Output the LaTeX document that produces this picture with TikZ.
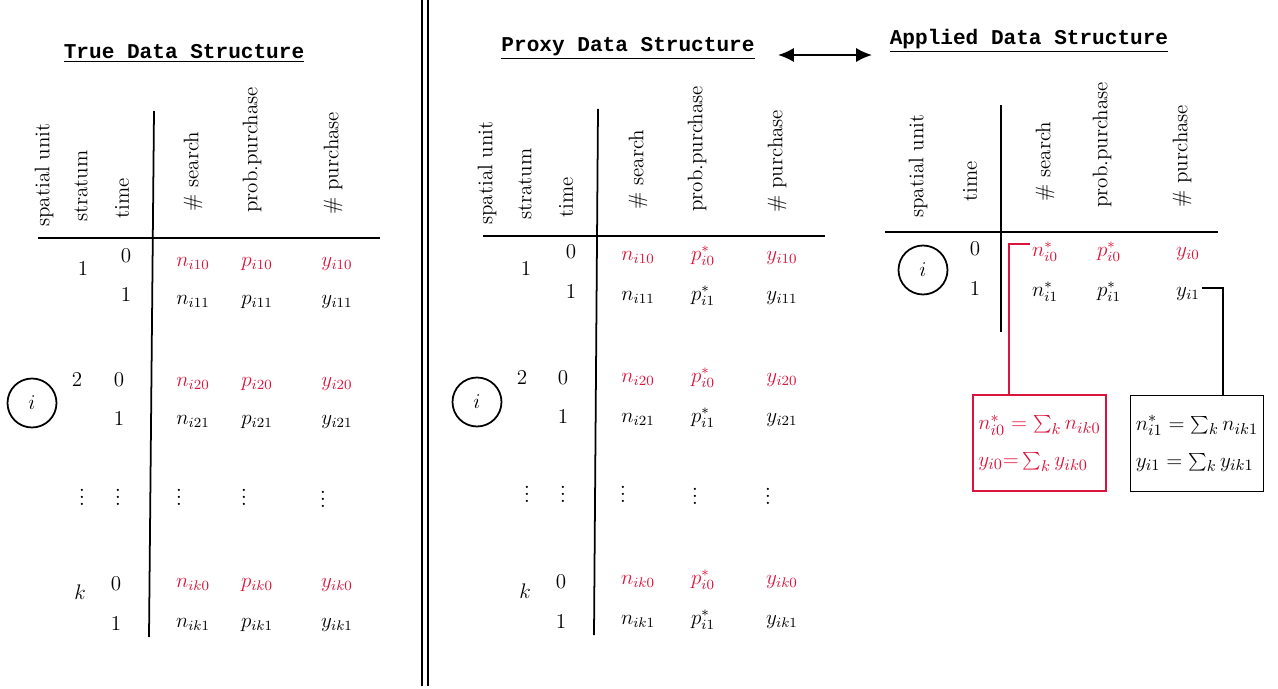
\documentclass[tikz,border=0pt]{standalone}
\usepackage{fontspec}
\newfontfamily\titlefont{Liberation Mono}
\usetikzlibrary{positioning,arrows.meta,calc}
\definecolor{redc}{RGB}{220,20,60}
\tikzset{
  every node/.style={font=\fontsize{12}{14}\selectfont},
  cell/.style={inner sep=1pt, text height=2.2ex, text depth=.8ex},
  redcell/.style={cell, text=redc},
  dotcell/.style={inner sep=0pt, font=\fontsize{13}{15}\selectfont},
  colhead/.style={rotate=90, anchor=west, inner sep=0pt},
  unit/.style={circle, draw, line width=1pt, minimum size=0.98cm, inner sep=0pt},
  title/.style={font=\fontsize{12}{14}\selectfont\titlefont\bfseries, inner sep=0pt},
  rule/.style={line width=1pt},
  sumbox/.style={draw, line width=1pt, align=left, minimum width=2.66cm,
                 minimum height=1.92cm, inner sep=0.5pt, font=\fontsize{13}{16}\selectfont},
}
\begin{document}
\begin{tikzpicture}[x=0.02cm, y=-0.02cm, on grid]
\useasboundingbox (0,0) rectangle (1278,689);

% separator
\draw[rule] (422,0) -- (422,686);
\draw[rule] (428,0) -- (428,686);

%%% true data structure
\node[title] (ttitle) at (184,53) {\underline{True Data Structure}};
\node[colhead] (tsu) at (44,227) {spatial unit};
\node[colhead] (tst) at (81,222) {stratum};
\node[colhead] (ttm) at (122,219) {time};
\node[colhead] (tse) at (193,212) {\# search};
\node[colhead] (tpp) at (252,213) {prob.purchase};
\node[colhead] (tpu) at (333,215) {\# purchase};
\draw[rule] (38,238) -- (380,238);
\draw[rule] (154,111) -- (149,637);

\node[unit] (tunit) at (32,403) {$i$};

\node[cell] (ts1) at (83,270) {1};
\node[cell] (tt10) at (126,257) {0};
\node[cell] (tt11) at (126,296) {1};
\node[redcell] (tn10) at (193,261) {$n_{i10}$};
\node[redcell] (tp10) [right=1.28cm of tn10] {$p_{i10}$};
\node[redcell] (ty10) [right=1.6cm of tp10] {$y_{i10}$};
\node[cell] (tn11) at (193,299) {$n_{i11}$};
\node[cell] (tp11) [right=1.28cm of tn11] {$p_{i11}$};
\node[cell] (ty11) [right=1.6cm of tp11] {$y_{i11}$};

\node[cell] (ts2) at (77,381) {2};
\node[cell] (tt20) at (119,381) {0};
\node[cell] (tt21) at (119,420) {1};
\node[redcell] (tn20) at (193,381) {$n_{i20}$};
\node[redcell] (tp20) [right=1.28cm of tn20] {$p_{i20}$};
\node[redcell] (ty20) [right=1.6cm of tp20] {$y_{i20}$};
\node[cell] (tn21) at (193,419) {$n_{i21}$};
\node[cell] (tp21) [right=1.28cm of tn21] {$p_{i21}$};
\node[cell] (ty21) [right=1.6cm of tp21] {$y_{i21}$};

\node[dotcell] (tdots1) at (82,492) {$\vdots$};
\node[dotcell] (tdots2) at (118,492) {$\vdots$};
\node[dotcell] (tdots3) at (179,492) {$\vdots$};
\node[dotcell] (tdots4) at (244,492) {$\vdots$};
\node[dotcell] (tdots5) at (323,494) {$\vdots$};

\node[cell] (tsk) at (80,594) {$k$};
\node[cell] (ttk0) at (116,585) {0};
\node[cell] (ttk1) at (116,625) {1};
\node[redcell] (tnk0) at (193,582) {$n_{ik0}$};
\node[redcell] (tpk0) [right=1.28cm of tnk0] {$p_{ik0}$};
\node[redcell] (tyk0) [right=1.6cm of tpk0] {$y_{ik0}$};
\node[cell] (tnk1) at (193,622) {$n_{ik1}$};
\node[cell] (tpk1) [right=1.28cm of tnk1] {$p_{ik1}$};
\node[cell] (tyk1) [right=1.6cm of tpk1] {$y_{ik1}$};

%%% proxy data structure
\node[title] (xtitle) at (628,48) {\underline{Proxy Data Structure}};
\node[colhead] (xsu) at (487,225) {spatial unit};
\node[colhead] (xst) at (525,220) {stratum};
\node[colhead] (xtm) at (566,218) {time};
\node[colhead] (xse) at (638,210) {\# search};
\node[colhead] (xpp) at (697,212) {prob.purchase};
\node[colhead] (xpu) at (777,213) {\# purchase};
\draw[rule] (483,236) -- (825,236);
\draw[rule] (598,109) -- (594,635);

\node[unit] (xunit) at (477,402) {$i$};

\node[cell] (xs1) at (526,270) {1};
\node[cell] (xt10) at (571,253) {0};
\node[cell] (xt11) at (571,293) {1};
\node[redcell] (xn10) at (638,255) {$n_{i10}$};
\node[redcell] (xp10) [right=1.3cm of xn10] {$p^*_{i0}$};
\node[redcell] (xy10) [right=1.58cm of xp10] {$y_{i10}$};
\node[cell] (xn11) at (638,295) {$n_{i11}$};
\node[cell] (xp11) [right=1.3cm of xn11] {$p^*_{i1}$};
\node[cell] (xy11) [right=1.58cm of xp11] {$y_{i11}$};

\node[cell] (xs2) at (522,379) {2};
\node[cell] (xt20) at (563,379) {0};
\node[cell] (xt21) at (563,418) {1};
\node[redcell] (xn20) at (638,377) {$n_{i20}$};
\node[redcell] (xp20) [right=1.3cm of xn20] {$p^*_{i0}$};
\node[redcell] (xy20) [right=1.58cm of xp20] {$y_{i20}$};
\node[cell] (xn21) at (638,417) {$n_{i21}$};
\node[cell] (xp21) [right=1.3cm of xn21] {$p^*_{i1}$};
\node[cell] (xy21) [right=1.58cm of xp21] {$y_{i21}$};

\node[dotcell] (xdots1) at (527,489) {$\vdots$};
\node[dotcell] (xdots2) at (563,489) {$\vdots$};
\node[dotcell] (xdots3) at (623,489) {$\vdots$};
\node[dotcell] (xdots4) at (695,491) {$\vdots$};
\node[dotcell] (xdots5) at (768,491) {$\vdots$};

\node[cell] (xsk) at (525,593) {$k$};
\node[cell] (xtk0) at (561,583) {0};
\node[cell] (xtk1) at (561,623) {1};
\node[redcell] (xnk0) at (638,579) {$n_{ik0}$};
\node[redcell] (xpk0) [right=1.3cm of xnk0] {$p^*_{i0}$};
\node[redcell] (xyk0) [right=1.58cm of xpk0] {$y_{ik0}$};
\node[cell] (xnk1) at (638,619) {$n_{ik1}$};
\node[cell] (xpk1) [right=1.3cm of xnk1] {$p^*_{i1}$};
\node[cell] (xyk1) [right=1.58cm of xpk1] {$y_{ik1}$};

%%% applied data structure
\node[title] (atitle) at (1029,41) {\underline{Applied Data Structure}};
\coordinate (arl) at (778,55);
\coordinate (arr) at (872,55);
\draw[line width=1pt, {Latex[length=9pt,width=8pt]}-{Latex[length=9pt,width=8pt]}] (arl) -- (arr);

\node[colhead] (asu) at (918,218) {spatial unit};
\node[colhead] (atm) at (970,202) {time};
\node[colhead] (ase) at (1045,202) {\# search};
\node[colhead] (app) at (1102,208) {prob.purchase};
\node[colhead] (apu) at (1182,208) {\# purchase};
\draw[rule] (885,232) -- (1218,232);
\draw[rule] (1001,105) -- (1001,332);

\node[unit] (aunit) at (923,270) {$i$};
\node[cell] (at0) at (975,250) {0};
\node[cell] (at1) at (975,290) {1};
\node[redcell] (an0) at (1045,251) {$n^*_{i0}$};
\node[redcell] (ap0) [right=1.28cm of an0] {$p^*_{i0}$};
\node[redcell] (ay0) [right=1.58cm of ap0] {$y_{i0}$};
\node[cell] (an1) at (1045,291) {$n^*_{i1}$};
\node[cell] (ap1) [right=1.28cm of an1] {$p^*_{i1}$};
\node[cell] (ay1) [right=1.58cm of ap1] {$y_{i1}$};

\node[sumbox, draw=redc, text=redc] (redsum) at (1039.5,443)
  {$n^*_{i0} = \sum_k n_{ik0}$\\[5pt]$y_{i0}{=}\sum_k y_{ik0}$};
\node[sumbox] (blacksum) at (1197,443.5)
  {$n^*_{i1} = \sum_k n_{ik1}$\\[5pt]$y_{i1} = \sum_k y_{ik1}$};

\coordinate (rturn) at (1009,244);
\coordinate (bturn) at (1223,288);
\draw[line width=1pt, redc] (an0.west |- rturn) -- (rturn) -- (rturn |- redsum.north);
\draw[line width=1pt] (ay1.east |- bturn) -- (bturn) -- (bturn |- blacksum.north);
\end{tikzpicture}
\end{document}
